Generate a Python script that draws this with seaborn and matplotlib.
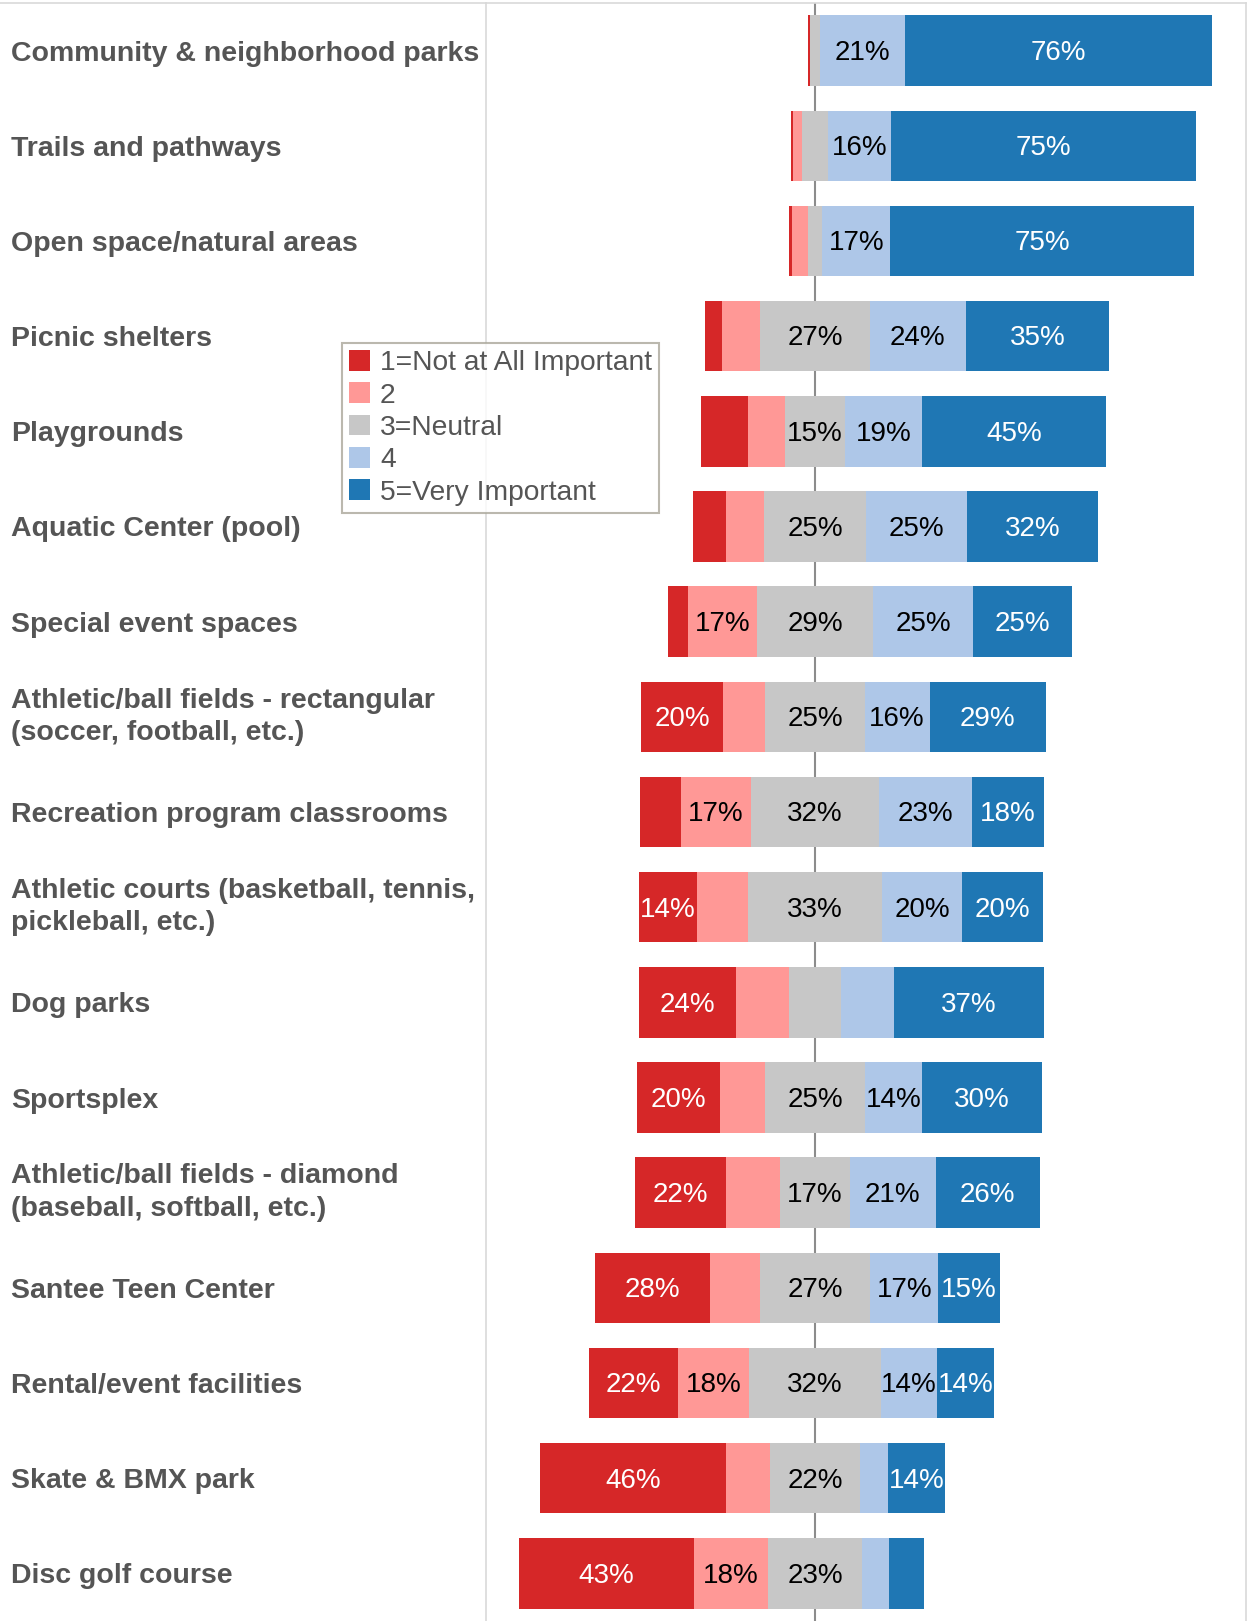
import numpy as np
import pandas as pd
import matplotlib.pyplot as plt
import seaborn as sns
from matplotlib.patches import Patch
from matplotlib.lines import Line2D

# categories, top to bottom
categories = [
    "Community & neighborhood parks",
    "Trails and pathways",
    "Open space/natural areas",
    "Picnic shelters",
    "Playgrounds",
    "Aquatic Center (pool)",
    "Special event spaces",
    "Athletic/ball fields - rectangular\n(soccer, football, etc.)",
    "Recreation program classrooms",
    "Athletic courts (basketball, tennis,\npickleball, etc.)",
    "Dog parks",
    "Sportsplex",
    "Athletic/ball fields - diamond\n(baseball, softball, etc.)",
    "Santee Teen Center",
    "Rental/event facilities",
    "Skate & BMX park",
    "Disc golf course",
]

# share of responses (%) per rating
r1 = [0.6, 0.5, 0.6, 4.3, 11.6, 8.2, 5.0, 20.3, 10.2, 14.4, 24.0, 20.4, 22.4, 28.4, 22.0, 46.0, 43.2]
r2 = [0.0, 2.2, 4.0, 9.5, 9.0, 9.3, 17.0, 10.4, 17.2, 12.6, 13.0, 11.2, 13.4, 12.2, 17.6, 10.9, 18.4]
r3 = [2.4, 6.5, 3.6, 27.0, 15.0, 25.3, 28.8, 24.6, 31.8, 33.2, 13.0, 24.6, 17.2, 27.4, 32.4, 22.1, 23.0]
r4 = [21.0, 15.6, 16.8, 23.8, 19.0, 25.0, 24.6, 16.0, 22.9, 19.8, 13.0, 14.2, 21.2, 16.8, 14.0, 7.0, 6.9]
r5 = [76.0, 75.2, 75.0, 35.4, 45.4, 32.2, 24.6, 28.7, 17.9, 20.0, 37.0, 29.6, 25.8, 15.2, 14.0, 14.0, 8.5]

legend_labels = ["1=Not at All Important", "2", "3=Neutral", "4", "5=Very Important"]
colors = ["#d62728", "#ff9896", "#c7c7c7", "#aec7e8", "#1f77b4"]
text_colors = ["white", "black", "black", "black", "white"]

sns.set_style("white")
plt.rcParams["font.family"] = ["Liberation Sans", "DejaVu Sans"]

W, H = 1247, 1621
fig = plt.figure(figsize=(W / 100, H / 100), dpi=100)
ax = fig.add_axes([486 / W, 0, 760 / W, 1618 / H])

segments = np.array([r1, r2, r3, r4, r5])
starts = -(segments[0] + segments[1] + segments[2] / 2)
lefts = []
for i in range(5):
    lefts.append(starts.copy())
    starts = starts + segments[i]

ax.axvline(0, color="#8c8c8c", lw=1.5, zorder=0)

for i in range(5):
    df = pd.DataFrame({"category": categories, "value": segments[i]})
    sns.barplot(data=df, x="value", y="category", order=categories,
                color=colors[i], saturation=1, errorbar=None, width=0.74,
                left=lefts[i], linewidth=0, ax=ax, zorder=2)

# value labels
for i in range(5):
    for j, v in enumerate(segments[i]):
        if v >= 13.5:
            ax.text(lefts[i][j] + v / 2, j + 0.025, f"{v:.0f}%", ha="center", va="center",
                    fontsize=20, color=text_colors[i], zorder=3)

ax.set_xlim(-81.3, 106.5)
ax.set_xlabel("")
ax.set_ylabel("")
ax.set_xticks([])
ax.tick_params(axis="y", length=0, pad=342)
for lab in ax.get_yticklabels():
    lab.set_horizontalalignment("left")
    lab.set_fontsize(20.5)
    lab.set_fontweight("bold")
    lab.set_color("#555555")
    lab.set_linespacing(1.33)
    if "\n" in lab.get_text():
        lab.set_verticalalignment("center")

for side in ["top", "left", "right"]:
    ax.spines[side].set_color("#d9d9d9")
    ax.spines[side].set_linewidth(1.2)
ax.spines["bottom"].set_visible(False)

# top border over label column
fig.add_artist(Line2D([0, 486 / W], [1 - 3 / H, 1 - 3 / H], color="#d9d9d9",
                      lw=1.2, transform=fig.transFigure))

handles = [Patch(facecolor=c, edgecolor="none") for c in colors]
leg = fig.legend(handles, legend_labels, loc="upper left",
                 bbox_to_anchor=(342 / W, 1 - 343 / H), borderaxespad=0,
                 fontsize=20.3, frameon=True, fancybox=False,
                 handlelength=0.75, handleheight=0.75, handletextpad=0.35,
                 labelspacing=0.22, borderpad=0.25)
leg.get_frame().set_edgecolor("#aaa79a")
leg.get_frame().set_linewidth(1.5)
for t in leg.get_texts():
    t.set_color("#555555")

fig.savefig("out.png", dpi=100)
